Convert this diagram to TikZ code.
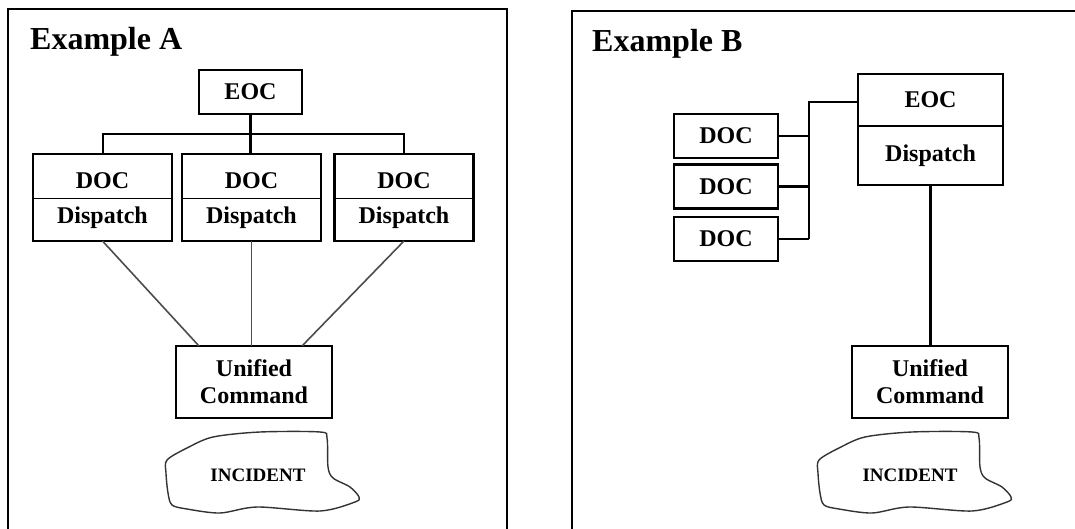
\documentclass[tikz,border=0pt]{standalone}
\usepackage{fontspec}
\setmainfont{Liberation Serif}
\begin{document}
\begin{tikzpicture}[x=1pt, y=-1pt,
    box/.style = {draw, line width=2.9pt, inner sep=0pt, outer sep=0pt},
    lbl/.style = {font=\fontsize{24}{27}\selectfont\bfseries, inner sep=0pt},
    ttl/.style = {font=\fontsize{32}{38}\selectfont\bfseries, inner sep=0pt, anchor=base west},
    inc/.style = {font=\fontsize{19}{22}\selectfont\bfseries, inner sep=0pt},
    blob/.style = {draw=black!80, line width=1.4pt},
    wire/.style = {line width=2.5pt},
    thinwire/.style = {draw=black!70, line width=1.6pt}]
    \useasboundingbox (0,0) rectangle (1075,529);
    \draw[line width=2.8pt] (8,529) -- (8,9) -- (507,9) -- (507,529);
    \draw[line width=2.8pt] (572,529) -- (572,11) -- (1075,11);
    \node[ttl] (titleA) at (30,50) {Example A};
    \node[ttl] (titleB) at (592,52) {Example B};

    \node[box, lbl, minimum width=103, minimum height=44] (eocA) at (250.5,92) {EOC};
    \foreach \n/\x in {1/102.5,2/251.5,3/404}
    {
    \node[box, minimum width=139, minimum height=87] (docA\n) at (\x,197.5) {};
    \draw[line width=1pt] (docA\n.west |- 0,199) -- (docA\n.east |- 0,199);
    \node[lbl] (docAtop\n) at (\x,181) {DOC};
    \node[lbl] (docAbot\n) at (\x,218) {Dispatch};
    }
    \coordinate (busA) at (252,134);
    \draw[wire] (eocA.south) -- (eocA.south |- docA2.north);
    \draw[line width=2pt] (docA1.north) |- (busA) -| (docA3.north);
    \node[box, lbl, minimum width=156, minimum height=72, align=center] (ucA) at (254,382) {Unified\\Command};
    \draw[thinwire] (docA1.south) -- ([xshift=23pt]ucA.north west);
    \draw[thinwire] (docA2.south) -- (docA2.south |- ucA.north);
    \draw[thinwire] (docA3.south) -- ([xshift=-30pt]ucA.north east);
    \node[inc] (incA) at (258,475) {INCIDENT};

    \node[box, minimum width=145, minimum height=111] (eocB) at (930.5,129.5) {};
    \draw[line width=2pt] (eocB.west |- 0,126) -- (eocB.east |- 0,126);
    \node[lbl] (eocBtop) at (930.5,100) {EOC};
    \node[lbl] (eocBbot) at (930.5,156) {Dispatch};
    \foreach \n/\y in {1/136,2/186.5,3/239}
    {
    \node[box, lbl, minimum width=104, minimum height=44] (docB\n) at (726,\y) {DOC};
    }
    \coordinate (busB) at (809,102);
    \draw[wire] (eocB.west |- busB) -- (busB) -- (busB |- docB3.east);
    \foreach \n in {1,2,3}
    {
    \draw[wire] (docB\n.east) -- (docB\n.east -| busB);
    }
    \node[box, lbl, minimum width=156, minimum height=72, align=center] (ucB) at (930,382) {Unified\\Command};
    \draw[wire] (eocB.south) -- (eocB.south |- ucB.north);
    \node[inc] (incB) at (910,475) {INCIDENT};

    \foreach \c in {incA,incB}
    {
    \draw[blob, shift={(\c)}] plot[smooth cycle, tension=0.5] coordinates {(-91,-15) (-71,-27) (-45,-38) (2,-43) (62,-43) (69,-37) (70,-8) (75,3) (92,12) (101,22) (97,27) (62,36) (-1,32) (-38,38) (-71,34) (-86,30) (-90,18) (-92,-2)};
    }
\end{tikzpicture}
\end{document}
